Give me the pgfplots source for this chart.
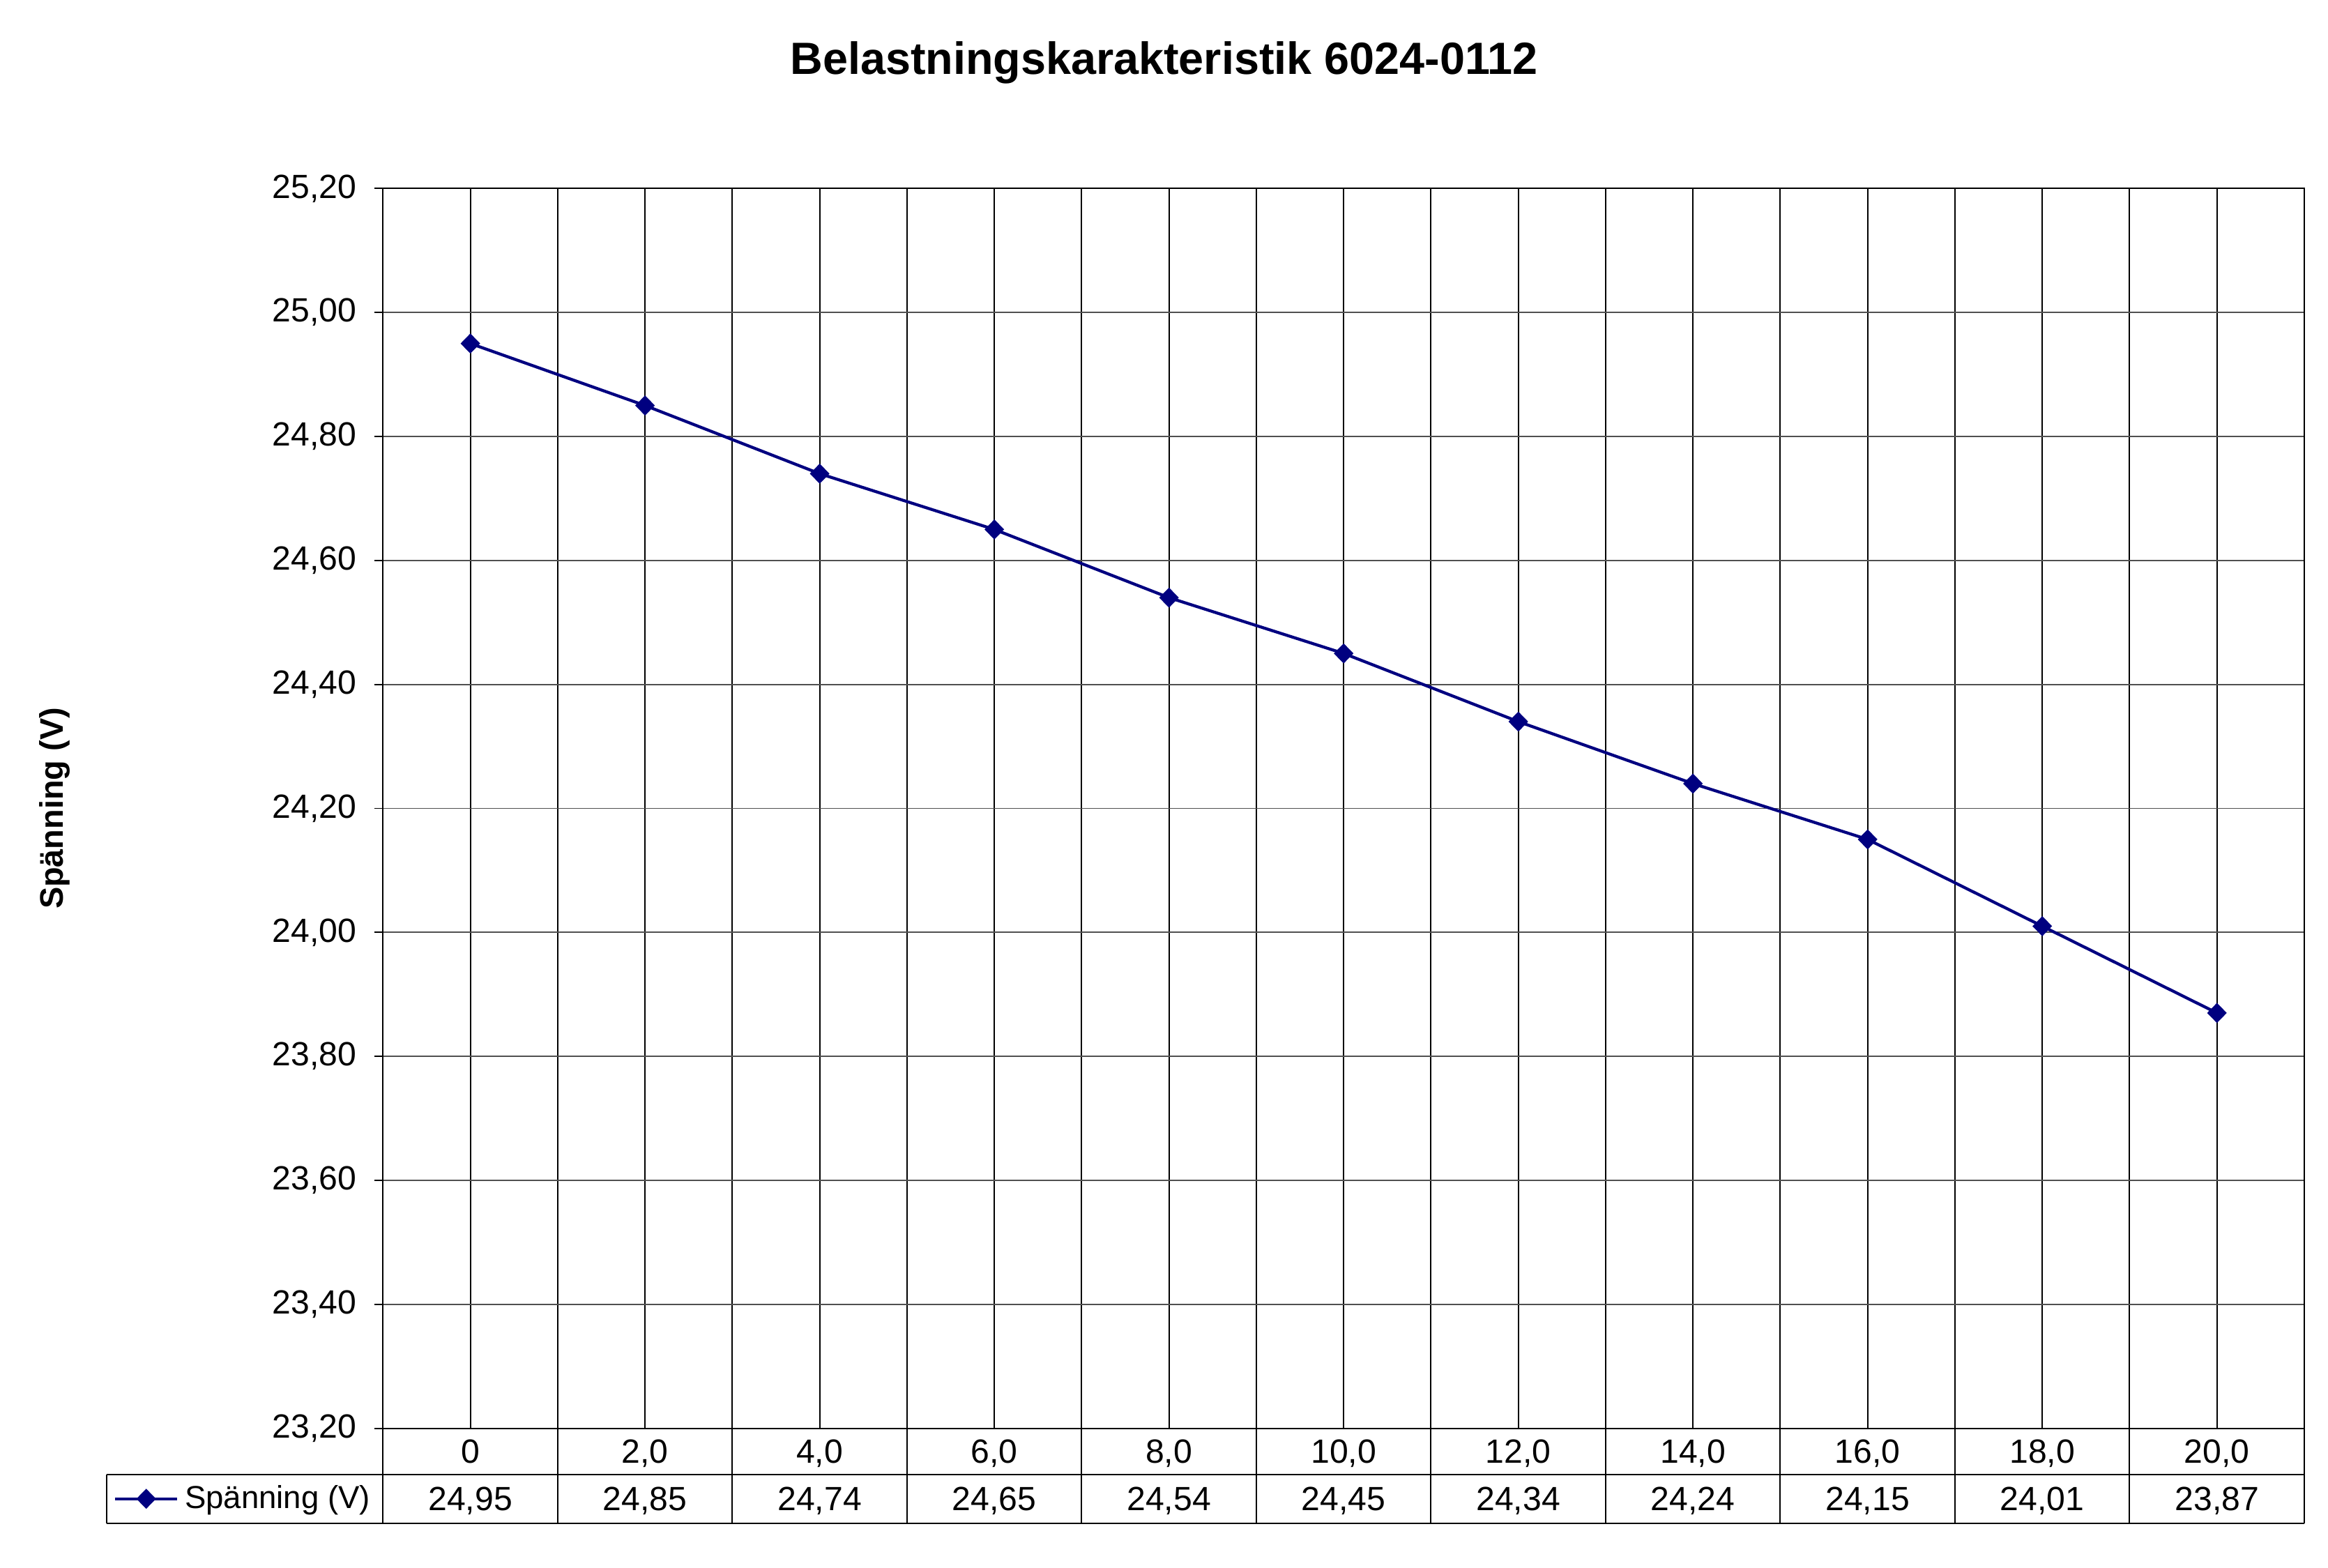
\documentclass[border=0pt]{standalone}
\usepackage{pgfplots}
\pgfplotsset{compat=1.18}
\usepackage{fontspec}
\setmainfont{Liberation Sans}
\definecolor{navyx}{RGB}{0,0,128}
\definecolor{gridgray}{RGB}{80,80,80}
\begin{document}
\begin{tikzpicture}
\useasboundingbox (0,0) rectangle (784pt,528pt);
\node[font=\fontsize{15.2}{18}\selectfont\bfseries] at (392pt,507pt) {Belastningskarakteristik 6024-0112};
\begin{axis}[
  at={(129pt,47pt)}, anchor=south west,
  scale only axis, width=647pt, height=417.5pt,
  xmin=-1, xmax=21, ymin=23.2, ymax=25.2,
  xtick={0,2,...,20},
  xticklabels={0,{2,0},{4,0},{6,0},{8,0},{10,0},{12,0},{14,0},{16,0},{18,0},{20,0}},
  minor xtick={-1,1,...,21},
  ytick={23.2,23.4,23.6,23.8,24.0,24.2,24.4,24.6,24.8,25.0,25.2},
  ytick pos=left,
  extra x ticks={0,2,...,20},
  extra x tick labels={{24,95},{24,85},{24,74},{24,65},{24,54},{24,45},{24,34},{24,24},{24,15},{24,01},{23,87}},
  extra x tick style={grid=none, major tick length=0pt, xticklabel style={yshift=-19pt}},
  xmajorgrids=true, xminorgrids=true, ymajorgrids=true,
  major x grid style={black, line width=0.45pt},
  minor x grid style={black, line width=0.45pt},
  major y grid style={gridgray, line width=0.45pt},
  axis line style={black, line width=0.45pt},
  tick align=outside,
  major tick length=3pt,
  xtick style={draw=none},
  minor tick length=0pt,
  ytick style={black, line width=0.45pt},
  tick label style={font=\fontsize{11.3}{13}\selectfont},
  xticklabel style={anchor=base, yshift=-8.7pt, text height=8pt},
  yticklabel style={xshift=-2.5pt},
  /pgf/number format/assume math mode=true,
  yticklabel={\pgfmathprintnumber[fixed,fixed zerofill,precision=2,use comma]{\tick}},
  ylabel={Spänning (V)},
  ylabel style={at={(axis description cs:-0.1708,0.5)}, anchor=center, font=\fontsize{11}{13}\selectfont\bfseries},
  legend style={at={(axis description cs:-0.1406,-0.0569)}, anchor=west, draw=none, fill=none, inner sep=0pt, font=\fontsize{10.7}{12}\selectfont},
  legend image code/.code={\draw[mark repeat=2,mark phase=2] plot coordinates {(0pt,0pt) (10.5pt,0pt) (21pt,0pt)};},
  clip=false,
]
\addplot[navyx, line width=1pt, mark=diamond*, mark size=3.1pt, mark options={fill=navyx, line width=0.4pt, xscale=1.3}]
coordinates {(0,24.95) (2,24.85) (4,24.74) (6,24.65) (8,24.54) (10,24.45) (12,24.34) (14,24.24) (16,24.15) (18,24.01) (20,23.87)};
\addlegendentry{Spänning (V)}
\pgfplotsinvokeforeach{-1,1,...,21}{\draw[black, line width=0.45pt] (axis cs:#1,23.2) -- ++(0pt,-32pt);}
\draw[black, line width=0.45pt] (axis cs:-1,23.2) ++(-93pt,-15.5pt) -- ++(740pt,0pt);
\draw[black, line width=0.45pt] (axis cs:-1,23.2) ++(-93pt,-32pt) -- ++(740pt,0pt);
\draw[black, line width=0.45pt] (axis cs:-1,23.2) ++(-93pt,-15.5pt) -- ++(0pt,-16.5pt);
\end{axis}
\end{tikzpicture}
\end{document}
